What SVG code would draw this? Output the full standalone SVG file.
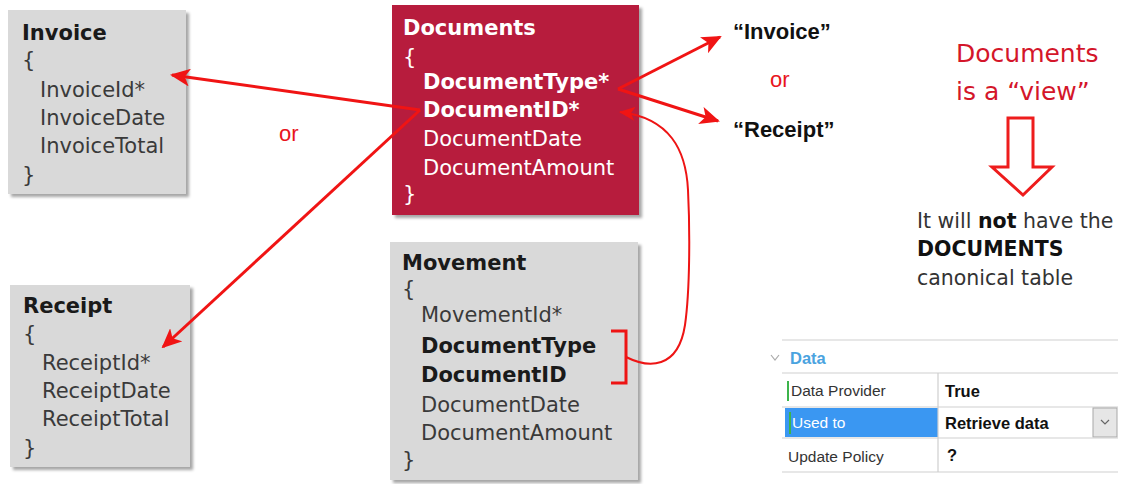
<svg xmlns="http://www.w3.org/2000/svg" width="1130" height="484" viewBox="0 0 1130 484">
<defs>
<filter id="sh" x="-5%" y="-5%" width="115%" height="115%">
<feDropShadow dx="3" dy="3" stdDeviation="1.5" flood-color="#000" flood-opacity="0.35"/>
</filter>
<marker id="ah" markerUnits="userSpaceOnUse" markerWidth="20" markerHeight="18" viewBox="0 0 20 18" refX="18" refY="9" orient="auto">
<path d="M0,0 L20,9 L0,18 L5,9 z" fill="#f01414"/>
</marker>
<marker id="ah2" markerUnits="userSpaceOnUse" markerWidth="16" markerHeight="14" viewBox="0 0 16 14" refX="15" refY="7" orient="auto">
<path d="M0,0 L16,7 L0,14 L4,7 z" fill="#f01414"/>
</marker>
</defs>
<style>
.box{fill:#d9d9d9}
.doc{fill:#b71a3c}
.t{font-family:"DejaVu Sans",sans-serif;font-size:21px;fill:#3a3a3a}
.h{font-weight:bold;fill:#1a1a1a}
.w{fill:#ffffff}
.b{font-weight:bold}
.arr{fill:none;stroke:#f01414;stroke-width:3}
.red{font-family:"Liberation Sans",Arial,sans-serif;font-size:22px;fill:#e8141c}
.q{font-family:"Liberation Sans",Arial,sans-serif;font-size:22px;font-weight:bold;fill:#111}
.rt{font-family:"DejaVu Sans",sans-serif;font-size:25px;fill:#d4162a}
.nt{font-family:"DejaVu Sans",sans-serif;font-size:20.5px;fill:#333}
.p{font-family:"Liberation Sans",Arial,sans-serif;font-size:15.5px;fill:#333}
.pb{font-weight:bold;fill:#111;font-size:16.5px}
.ln{stroke:#cfcfcf;stroke-width:1.2}
</style>

<g id="invoice">
<rect class="box" x="8" y="10" width="178" height="184" filter="url(#sh)"/>
<text class="t h" x="22" y="40">Invoice</text>
<text class="t" x="22" y="67">{</text>
<text class="t" x="40" y="97">InvoiceId*</text>
<text class="t" x="40" y="125">InvoiceDate</text>
<text class="t" x="40" y="153">InvoiceTotal</text>
<text class="t" x="22" y="182">}</text>
</g>

<g id="receipt">
<rect class="box" x="10" y="285" width="180" height="182" filter="url(#sh)"/>
<text class="t h" x="23" y="313">Receipt</text>
<text class="t" x="23" y="341">{</text>
<text class="t" x="42" y="370">ReceiptId*</text>
<text class="t" x="42" y="398">ReceiptDate</text>
<text class="t" x="42" y="426">ReceiptTotal</text>
<text class="t" x="23" y="455">}</text>
</g>

<g id="documents">
<rect class="doc" x="392" y="5" width="247" height="210" filter="url(#sh)"/>
<text class="t w b" x="403" y="35">Documents</text>
<text class="t w" x="403" y="64">{</text>
<text class="t w b" x="423" y="89">DocumentType*</text>
<text class="t w b" x="423" y="117">DocumentID*</text>
<text class="t w" x="423" y="146">DocumentDate</text>
<text class="t w" x="423" y="175">DocumentAmount</text>
<text class="t w" x="403" y="201">}</text>
</g>

<g id="movement">
<rect class="box" x="390" y="242" width="248" height="238" filter="url(#sh)"/>
<text class="t h" x="402" y="270">Movement</text>
<text class="t" x="402" y="296">{</text>
<text class="t" x="421" y="322">MovementId*</text>
<text class="t h" x="421" y="353">DocumentType</text>
<text class="t h" x="421" y="382">DocumentID</text>
<text class="t" x="421" y="412">DocumentDate</text>
<text class="t" x="421" y="440">DocumentAmount</text>
<text class="t" x="402" y="467">}</text>
</g>

<g id="values">
<text class="q" x="733" y="39">“Invoice”</text>
<text class="red" x="770" y="87">or</text>
<text class="q" x="733" y="137">“Receipt”</text>
</g>

<g id="note">
<text class="rt" x="956" y="62">Documents</text>
<text class="rt" x="956" y="100">is a “view”</text>
<polygon points="1008,118 1033,118 1033,167 1052,167 1023,195 992,167 1008,167" fill="#fff" stroke="#ee1c1c" stroke-width="3" stroke-linejoin="miter"/>
<text class="nt" x="917" y="228">It will <tspan style="font-weight:bold;fill:#111">not</tspan> have the</text>
<text class="nt" x="917" y="256" style="font-weight:bold;fill:#111">DOCUMENTS</text>
<text class="nt" x="917" y="285">canonical table</text>
</g>

<text class="red" x="279" y="141">or</text>

<g id="connectors">
<path class="arr" d="M420,110 L172,75" marker-end="url(#ah)"/>
<path class="arr" d="M420,110 L163,347" marker-end="url(#ah)"/>
<path class="arr" d="M618,89 L720,37" marker-end="url(#ah)"/>
<path class="arr" d="M618,89 L718,121" marker-end="url(#ah)"/>
<path d="M611,331 H626 V383 H611" fill="none" stroke="#ee1414" stroke-width="3"/>
<path d="M626,357 C648,368 678,370 685,325 C690,290 690,230 688,190 C686,150 670,118 620,112" fill="none" stroke="#ee1414" stroke-width="2" marker-end="url(#ah2)"/>
</g>

<g id="properties">
<line class="ln" x1="782" y1="340" x2="1118" y2="340"/>
<path d="M771,355 L775,360 L779,355" fill="none" stroke="#aaa" stroke-width="1.2"/>
<text class="p" x="790" y="364" style="font-weight:bold;fill:#4aa3df;font-size:16.5px">Data</text>
<line class="ln" x1="782" y1="373" x2="1118" y2="373"/>
<rect x="787" y="381" width="2" height="20" fill="#3cb44b"/>
<text class="p" x="791" y="396">Data Provider</text>
<text class="p pb" x="945" y="397">True</text>
<line class="ln" x1="782" y1="407" x2="1118" y2="407"/>
<rect x="785" y="408" width="153" height="29" fill="#3a97f2"/>
<rect x="789" y="412" width="2" height="22" fill="#3cb44b"/>
<text class="p" x="792" y="428" style="fill:#fff">Used to</text>
<text class="p pb" x="945" y="429">Retrieve data</text>
<rect x="1093" y="408" width="24" height="29" fill="#e6e6e6" stroke="#a8a8a8" stroke-width="1"/>
<path d="M1101,420 L1105,424 L1109,420" fill="none" stroke="#666" stroke-width="1.2"/>
<line class="ln" x1="782" y1="438" x2="1118" y2="438"/>
<text class="p" x="788" y="462">Update Policy</text>
<text class="p pb" x="947" y="461">?</text>
<line class="ln" x1="782" y1="472" x2="1118" y2="472"/>
<line class="ln" x1="938" y1="373" x2="938" y2="472"/>
</g>
</svg>
